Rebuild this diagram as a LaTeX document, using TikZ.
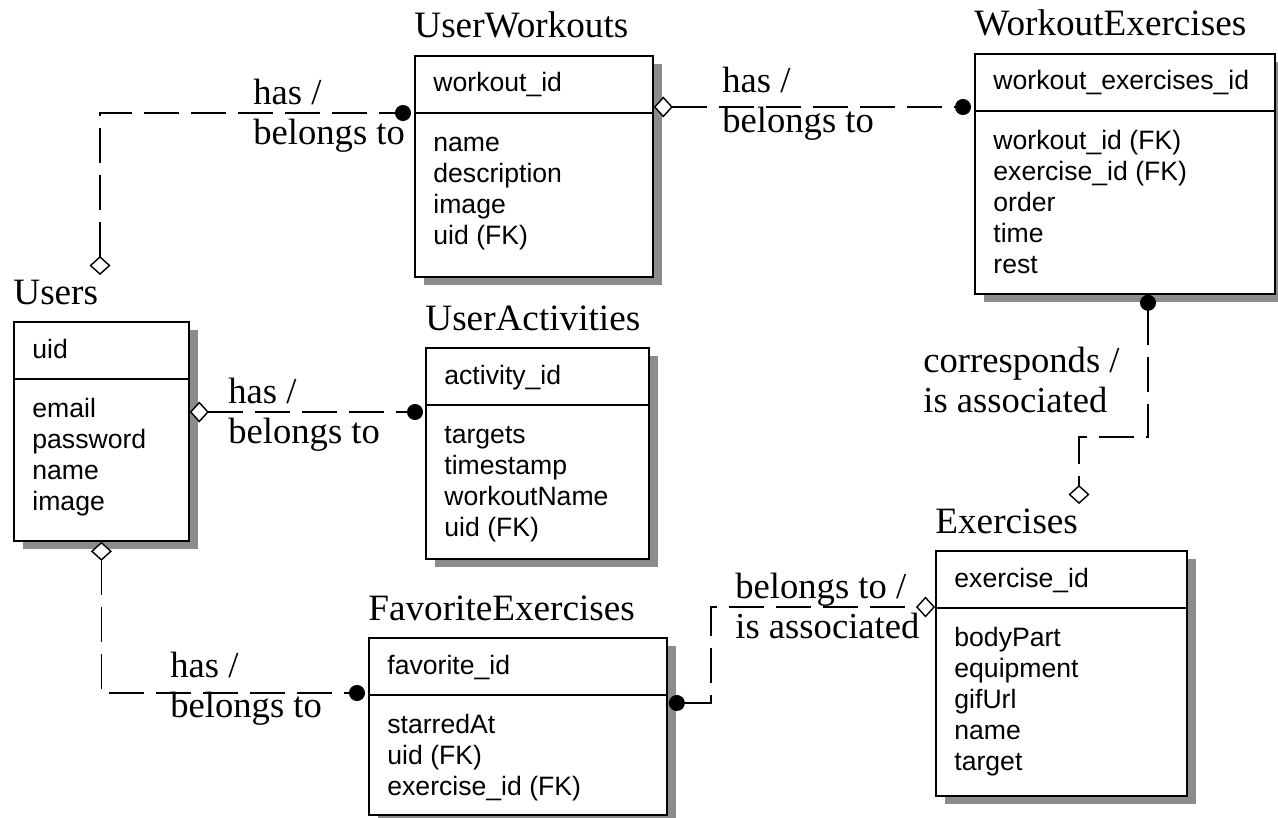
\documentclass[tikz,border=0pt]{standalone}
\usepackage{fontspec}
\setmainfont{Liberation Serif}
\setsansfont{Liberation Sans}
\usepackage{tikz}
\usetikzlibrary{arrows.meta, shadows, positioning, calc}

\begin{document}
\begin{tikzpicture}[
    x=0.5pt, y=-0.5pt,
    entity/.style={rectangle, draw, line width=0.9pt, fill=white, anchor=north west, inner sep=0pt,
        general shadow={fill=black!45, shadow xshift=4.5pt, shadow yshift=-4pt}},
    divider/.style={line width=0.9pt},
    title/.style={anchor=base west, inner sep=0pt, font=\fontsize{18.6}{20}\selectfont},
    field/.style={anchor=base west, inner sep=0pt, align=left, font=\sffamily\fontsize{13.3}{15.5}\selectfont},
    lbl/.style={anchor=base west, inner sep=0pt, align=left, font=\fontsize{18.3}{20}\selectfont},
    rel/.style={line width=0.7pt, dash pattern=on 17.5pt off 6pt},
    dia2dot/.style={arrows={Diamond[fill=white, length=9.5pt, width=10.5pt, line width=0.7pt]-Circle[length=8pt]}},
    dot2dia/.style={arrows={Circle[length=8pt]-Diamond[fill=white, length=9.5pt, width=10.5pt, line width=0.7pt]}}
]
\useasboundingbox (0,0) rectangle (1278,818);

% entities (field nodes sit on the baseline of their last line)
\node[entity, minimum width=119pt, minimum height=110.5pt] (uw) at (414,55) {};
\node[title] (uw-title) at ([yshift=8.5pt]uw.north west) {UserWorkouts};
\draw[divider] ([yshift=-29pt]uw.north west) -- ([yshift=-29pt]uw.north east);
\node[field] (uw-key) at ([shift={(19,37)}]uw.north west) {workout\_id};
\node[field] (uw-attr) at ([shift={(19,189)}]uw.north west) {name\\description\\image\\uid (FK)};

\node[entity, minimum width=150pt, minimum height=120pt] (we) at (974,53) {};
\node[title] (we-title) at ([yshift=8.5pt]we.north west) {WorkoutExercises};
\draw[divider] ([yshift=-29pt]we.north west) -- ([yshift=-29pt]we.north east);
\node[field] (we-key) at ([shift={(19,37)}]we.north west) {workout\_exercises\_id};
\node[field] (we-attr) at ([shift={(19,220)}]we.north west) {workout\_id (FK)\\exercise\_id (FK)\\order\\time\\rest};

\node[entity, minimum width=87.5pt, minimum height=109.5pt] (usr) at (13,321) {};
\node[title] (usr-title) at ([yshift=8.5pt]usr.north west) {Users};
\draw[divider] ([yshift=-29pt]usr.north west) -- ([yshift=-29pt]usr.north east);
\node[field] (usr-key) at ([shift={(19,37)}]usr.north west) {uid};
\node[field] (usr-attr) at ([shift={(19,189)}]usr.north west) {email\\password\\name\\image};

\node[entity, minimum width=111.5pt, minimum height=105.5pt] (ua) at (425,347) {};
\node[title] (ua-title) at ([yshift=8.5pt]ua.north west) {UserActivities};
\draw[divider] ([yshift=-29pt]ua.north west) -- ([yshift=-29pt]ua.north east);
\node[field] (ua-key) at ([shift={(19,37)}]ua.north west) {activity\_id};
\node[field] (ua-attr) at ([shift={(19,189)}]ua.north west) {targets\\timestamp\\workoutName\\uid (FK)};

\node[entity, minimum width=125.5pt, minimum height=122.5pt] (ex) at (935,550) {};
\node[title] (ex-title) at ([yshift=8.5pt]ex.north west) {Exercises};
\draw[divider] ([yshift=-29pt]ex.north west) -- ([yshift=-29pt]ex.north east);
\node[field] (ex-key) at ([shift={(19,37)}]ex.north west) {exercise\_id};
\node[field] (ex-attr) at ([shift={(19,220)}]ex.north west) {bodyPart\\equipment\\gifUrl\\name\\target};

\node[entity, minimum width=149pt, minimum height=88.5pt] (fav) at (368,637) {};
\node[title] (fav-title) at ([yshift=8.5pt]fav.north west) {FavoriteExercises};
\draw[divider] ([yshift=-29pt]fav.north west) -- ([yshift=-29pt]fav.north east);
\node[field] (fav-key) at ([shift={(19,37)}]fav.north west) {favorite\_id};
\node[field] (fav-attr) at ([shift={(19,158)}]fav.north west) {starredAt\\uid (FK)\\exercise\_id (FK)};

% free ends of the relationships
\coordinate (usr-top) at (100,275);
\coordinate (ex-top) at (1079,504);

% relationships
\draw[rel, dia2dot] (usr-top) |- ([shift={(-3,58)}]uw.north west);
\draw[rel, dia2dot] ([shift={(0,52)}]uw.north east) -- ([shift={(-3,54)}]we.north west);
\draw[rel, dia2dot] ([shift={(0,91)}]usr.north east) -- ([shift={(-2,65)}]ua.north west);
\draw[rel, dia2dot] (usr.south) |- ([shift={(-3,56)}]fav.north west);
\draw[rel, dot2dia] ([shift={(1,66)}]fav.north east) -- ++(42,0) |- ([shift={(0,57)}]ex.north west);
\draw[rel, dot2dia] ([shift={(174,0)}]we.south west) -- ++(0,142) -| (ex-top);

% labels
\node[lbl] (uw-rel) at (253,145) {has /\\belongs to};
\node[lbl] (we-rel) at (722,133) {has /\\belongs to};
\node[lbl] (ua-rel) at (228,443) {has /\\belongs to};
\node[lbl] (fav-rel) at (170,717) {has /\\belongs to};
\node[lbl] (ex-rel) at (735,638) {belongs to /\\is associated};
\node[lbl] (wex-rel) at (923,412) {corresponds /\\is associated};
\end{tikzpicture}
\end{document}
